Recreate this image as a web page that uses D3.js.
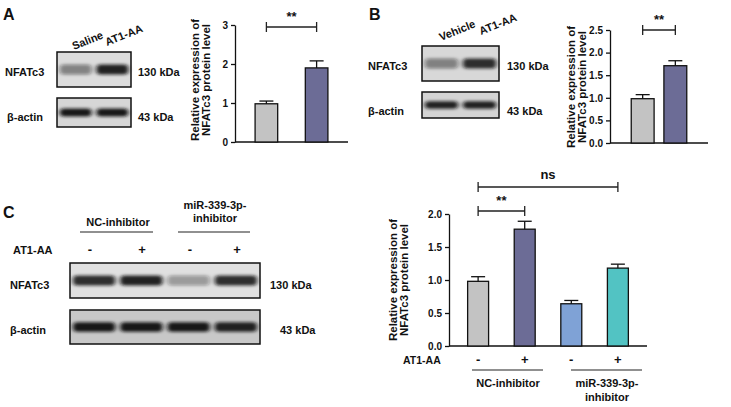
<!DOCTYPE html>
<html><head><meta charset="utf-8">
<script src="https://cdn.jsdelivr.net/npm/d3@7"></script>
<style>body{margin:0;background:#fff}text{font-family:"Liberation Sans",Arial,sans-serif;font-weight:bold;fill:#111}</style>
</head><body><svg id="c" width="731" height="407"></svg>
<script>
// ---- data ----
const catsA = ["Saline","AT1-AA"], valsA = [0.98,1.90], errA = [0.07,0.18], ticksA = [0,1,2,3];
const catsB = ["Vehicle","AT1-AA"], valsB = [0.98,1.71], errB = [0.09,0.11], ticksB = [0,0.5,1.0,1.5,2.0,2.5];
const catsC = ["NC-,-","NC-,+","miR-,-","miR-,+"], valsC = [0.98,1.77,0.64,1.18], errC = [0.07,0.12,0.05,0.06], ticksC = [0,0.5,1.0,1.5,2.0];
const signC = ["-","+","-","+"];
const bandA = [0.45,0.9], actinA=[0.95,0.95];
const bandB = [0.45,0.85], actinB=[0.9,0.9];
const bandC = [0.85,0.9,0.35,0.85], actinC=[0.95,0.95,0.95,0.9];
const colGray="#c3c3c3", colPurple="#6c6c96", colBlue="#7fa2d6", colTeal="#52c3c3";

const svg = d3.select("#c");
const defs = svg.append("defs");
defs.append("filter").attr("id","blur").attr("x","-20%").attr("y","-100%").attr("width","140%").attr("height","300%")
  .append("feGaussianBlur").attr("stdDeviation","2.2 1.6");

function txt(x,y,s,size,anchor="start",rot=0){
  const t=svg.append("text").attr("x",x).attr("y",y).attr("font-size",size).attr("text-anchor",anchor).text(s);
  if(rot) t.attr("transform",`rotate(${rot},${x},${y})`);
  return t;
}

function blot(x0,x1,y0,y1,intens,bg){
  svg.append("rect").attr("x",x0).attr("y",y0).attr("width",x1-x0).attr("height",y1-y0).attr("fill",bg);
  const bx=d3.scaleBand().domain(d3.range(intens.length)).range([x0,x1]).paddingInner(0.02).paddingOuter(0.02);
  const g=svg.append("g").attr("filter","url(#blur)");
  intens.forEach((v,i)=>{
    const h=(y1-y0)*0.28;
    g.append("rect").attr("x",bx(i)+2).attr("y",(y0+y1)/2-h/2).attr("width",bx.bandwidth()-4).attr("height",h)
     .attr("rx",4).attr("fill","#111").attr("opacity",v);
  });
  svg.append("rect").attr("x",x0).attr("y",y0).attr("width",x1-x0).attr("height",y1-y0).attr("fill","none").attr("stroke","#111").attr("stroke-width",1.5);
}

function barChart(o){
  const y=d3.scaleLinear().domain([0,o.ymax]).range([o.y0,o.y1]);
  const x=d3.scaleBand().domain(o.cats).range([o.xa,o.xe]).paddingInner(o.pin).paddingOuter(o.pout);
  const g=svg.append("g");
  g.append("g").attr("transform",`translate(${o.xa},0)`).call(d3.axisLeft(y).tickValues(o.ticks).tickFormat(o.fmt).tickSize(4).tickSizeOuter(0))
   .call(a=>{a.selectAll("text").attr("font-size",10).style("font-weight","bold");a.selectAll("line,path").attr("stroke","#111").attr("stroke-width",1.3);});
  g.append("line").attr("x1",o.xa).attr("x2",o.xe).attr("y1",o.y0).attr("y2",o.y0).attr("stroke","#111").attr("stroke-width",1.3);
  o.cats.forEach((c,i)=>{
    const bx=x(c),w=x.bandwidth(),cx=bx+w/2;
    g.append("line").attr("x1",cx).attr("x2",cx).attr("y1",y(o.vals[i]-o.err[i])).attr("y2",y(o.vals[i]+o.err[i])).attr("stroke","#111").attr("stroke-width",1.3);
    [o.vals[i]-o.err[i],o.vals[i]+o.err[i]].forEach(v=>g.append("line").attr("x1",cx-7).attr("x2",cx+7).attr("y1",y(v)).attr("y2",y(v)).attr("stroke","#111").attr("stroke-width",1.3));
    g.append("rect").attr("x",bx).attr("y",y(o.vals[i])).attr("width",w).attr("height",o.y0-y(o.vals[i])).attr("fill",o.cols[i]).attr("stroke","#111").attr("stroke-width",1.3);
  });
  return {x,y};
}
function bracket(xa,xb,yy,label,size=13){
  svg.append("path").attr("d",`M${xa},${yy-5}V${yy+5}M${xa},${yy}H${xb}M${xb},${yy-5}V${yy+5}`).attr("stroke","#222").attr("stroke-width",1.3).attr("fill","none");
  txt((xa+xb)/2,yy-(label==="ns"?8:6),label,size,"middle");
}
function ylab(x,cy){
  txt(x,cy,"Relative expression of",11.5,"middle",-90);
  txt(x+11,cy,"NFATc3 protein level",11.5,"middle",-90);
}

// ---- Panel A ----
txt(3,20,"A",16);
txt(74,50,"Saline",11,"start",-22);
txt(107,46,"AT1-AA",11,"start",-22);
txt(5,76,"NFATc3",11); txt(7,121,"β-actin",11);
blot(57,131,52,87,bandA,"#dcdcdc"); blot(57,131,98,127,actinA,"#d6d6d6");
txt(138,76,"130  kDa",11); txt(138,121,"43  kDa",11);
let rA=barChart({cats:catsA,vals:valsA,err:errA,ticks:ticksA,fmt:d3.format("d"),ymax:3,y0:142,y1:25,xa:235,xe:348,pin:0.55,pout:0.4,cols:[colGray,colPurple]});
bracket(rA.x("Saline")+rA.x.bandwidth()/2,rA.x("AT1-AA")+rA.x.bandwidth()/2,27,"**");
ylab(199,80);

// ---- Panel B ----
txt(369,20,"B",16);
txt(441,41,"Vehicle",11,"start",-22); txt(481,35,"AT1-AA",11,"start",-22);
txt(368,70,"NFATc3",11); txt(368,115,"β-actin",11);
blot(422,499,46,81,bandB,"#d8d8d8"); blot(422,499,92,118,actinB,"#d4d4d4");
txt(507,70,"130  kDa",11); txt(507,115,"43  kDa",11);
let rB=barChart({cats:catsB,vals:valsB,err:errB,ticks:ticksB,fmt:d3.format(".1f"),ymax:2.5,y0:143,y1:30,xa:610,xe:708,pin:0.3,pout:0.65,cols:[colGray,colPurple]});
bracket(rB.x("Vehicle")+rB.x.bandwidth()/2,rB.x("AT1-AA")+rB.x.bandwidth()/2,30,"**");
ylab(575,87);

// ---- Panel C blots ----
txt(3,218,"C",16);
txt(118,226,"NC-inhibitor",11,"middle");
txt(215,209,"miR-339-3p-",11,"middle"); txt(215,222,"inhibitor",11,"middle");
svg.append("line").attr("x1",80).attr("x2",153).attr("y1",232).attr("y2",232).attr("stroke","#222").attr("stroke-width",1.2);
svg.append("line").attr("x1",178).attr("x2",250).attr("y1",232).attr("y2",232).attr("stroke","#222").attr("stroke-width",1.2);
txt(13,254,"AT1-AA",11);
[90,142,190,237].forEach((xx,i)=>txt(xx,254,signC[i],13,"middle"));
txt(10,289,"NFATc3",11); txt(10,334,"β-actin",11);
blot(70,260,263,298,bandC,"#e0e0e0"); blot(70,260,310,344,actinC,"#c8c8c8");
txt(270,289,"130  kDa",11); txt(280,334,"43  kDa",11);

// ---- Panel C chart ----
let rC=barChart({cats:catsC,vals:valsC,err:errC,ticks:ticksC,fmt:d3.format(".1f"),ymax:2.0,y0:346,y1:214,xa:449,xe:647,pin:0.55,pout:0.4,cols:[colGray,colPurple,colBlue,colTeal]});
const cC=c=>rC.x(c)+rC.x.bandwidth()/2;
bracket(cC(catsC[0]),cC(catsC[1]),211,"**");
bracket(cC(catsC[0]),cC(catsC[3]),187,"ns");
txt(403,364,"AT1-AA",10.5);
catsC.forEach((c,i)=>txt(cC(c),364,signC[i],13,"middle"));
svg.append("line").attr("x1",472).attr("x2",543).attr("y1",370).attr("y2",370).attr("stroke","#222").attr("stroke-width",1.2);
svg.append("line").attr("x1",571).attr("x2",642).attr("y1",370).attr("y2",370).attr("stroke","#222").attr("stroke-width",1.2);
txt(508,387,"NC-inhibitor",11,"middle");
txt(607,387,"miR-339-3p-",11,"middle"); txt(607,401,"inhibitor",11,"middle");
ylab(397,280);
</script></body></html>
